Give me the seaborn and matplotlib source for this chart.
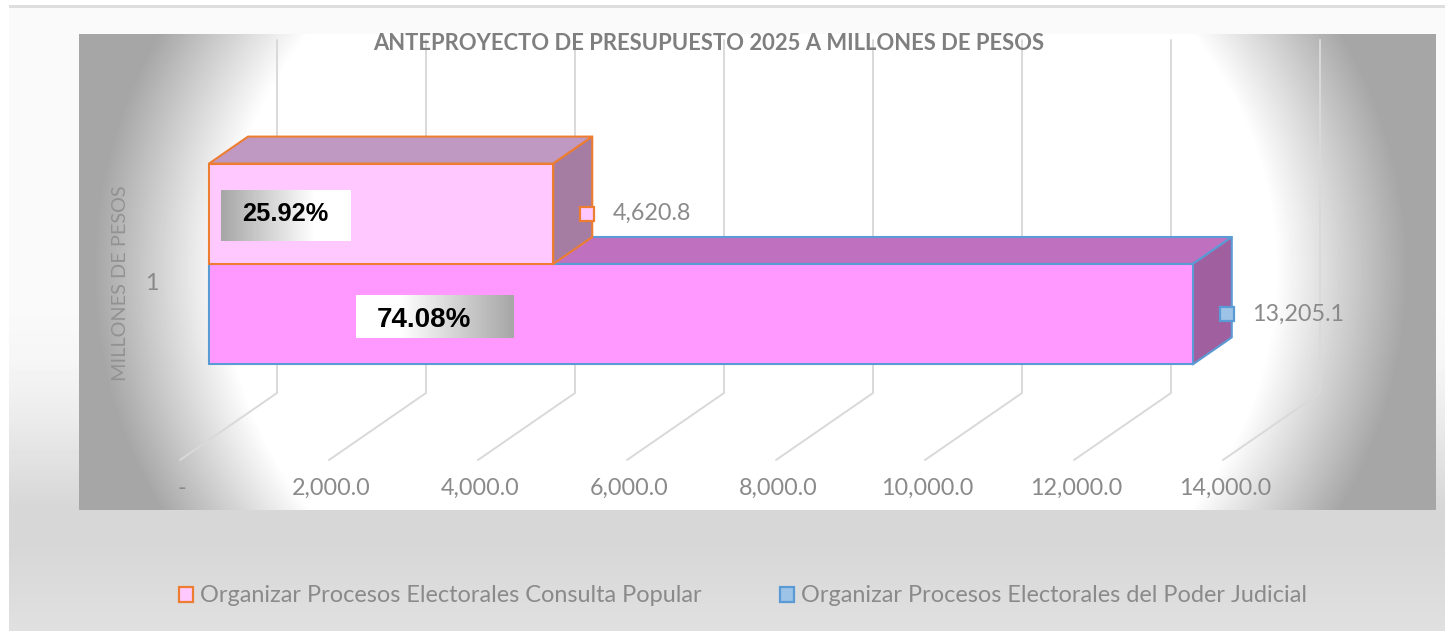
import numpy as np
import pandas as pd
import seaborn as sns
import matplotlib.pyplot as plt
from matplotlib.patches import Polygon
from matplotlib.transforms import Affine2D

# data
series = ['Organizar Procesos Electorales Consulta Popular',
          'Organizar Procesos Electorales del Poder Judicial']
categories = ['1', '1']
values = [4620.8, 13205.1]
shares = ['25.92%', '74.08%']
value_labels = ['4,620.8', '13,205.1']
x_ticks = [0, 2000, 4000, 6000, 8000, 10000, 12000, 14000]
x_tick_labels = ['-', '2,000.0', '4,000.0', '6,000.0', '8,000.0', '10,000.0', '12,000.0', '14,000.0']
title = 'ANTEPROYECTO DE PRESUPUESTO 2025 A MILLONES DE PESOS'
y_title = 'MILLONES DE PESOS'

# styles
face_colors = ['#FFC9FF', '#FF99FF']
edge_colors = ['#ED7D31', '#5B9BD5']
top_colors = ['#C099C3', '#BF70BF']
side_colors = ['#A57DA3', '#A060A0']
marker_colors = ['#FFC9FF', '#9DC3E6']
text_gray = '#8A8A8A'

W, H = 1445, 631
DEPTH_X, DEPTH_Y = 39, 27
PX_PER_UNIT = 0.0745
Y_UNIT = 251
X0, Y0 = 209, 264


def px(dx):
    return dx / PX_PER_UNIT


def py(p):
    return (p - Y0) / Y_UNIT


df = pd.DataFrame({'category': categories, 'series': series, 'value': values})

sns.set_theme(style='white')
plt.rcParams['font.family'] = ['Lato', 'DejaVu Sans']

fig = plt.figure(figsize=(W / 100, H / 100), dpi=100)

# background: card and radial wall
yy, xx = np.mgrid[0:H, 0:W]
card = np.interp(yy, [0, 300, 360, 420, 505, 545, 631], [250, 250, 246, 235, 215, 215, 224])
t = np.sqrt(((xx - 750) / 525.0) ** 2 + ((yy - 270) / 436.0) ** 2)
wall = 255 - np.clip((t - 1) / 0.25, 0, 1) * (255 - 166)
bg = card.copy()
inside = (xx >= 79) & (xx < 1436) & (yy >= 34) & (yy < 510)
bg[inside] = wall[inside]
bg[xx < 9] = 255
bg[yy < 6] = 255
bg[(yy >= 5) & (yy < 8) & (xx >= 9)] = 222
ax_bg = fig.add_axes([0, 0, 1, 1], zorder=0)
ax_bg.imshow(bg, cmap='gray', vmin=0, vmax=255, aspect='auto', interpolation='bilinear')
ax_bg.axis('off')

# main axes over the wall
ax = fig.add_axes([79 / W, 1 - 510 / H, (1436 - 79) / W, (510 - 34) / H], zorder=1)
ax.patch.set_alpha(0)
sns.barplot(data=df, y='category', x='value', hue='series', hue_order=series,
            palette=face_colors, orient='h', width=0.8, gap=0, saturation=1, ax=ax,
            zorder=3)

xlim = (px(79 - X0), px(1436 - X0))
ylim = (py(510), py(34))
ax.set_xlim(xlim)
ax.set_ylim(ylim)

# gridlines: back wall then floor
for tick in x_ticks:
    ax.plot([tick + px(68), tick + px(68), tick - px(29)], [py(40), py(393), py(460)],
            color='#D9D9D9', lw=1.4, zorder=1)

# bars with depth faces
bars = [b for b in ax.patches if b.get_width() > 0]
bars = sorted(bars, key=lambda b: b.get_y())
dx, dy = px(DEPTH_X), DEPTH_Y / Y_UNIT
for i, bar in enumerate(bars):
    z = 6 if i == 0 else 3
    left, top = bar.get_x(), bar.get_y()
    right, bottom = left + bar.get_width(), top + bar.get_height()
    bar.set_edgecolor(edge_colors[i])
    bar.set_linewidth(1.5)
    bar.set_zorder(z + 1)
    ax.add_patch(Polygon([(left, top), (left + dx, top - dy), (right + dx, top - dy), (right, top)],
                         facecolor=top_colors[i], edgecolor=edge_colors[i], lw=1.5, zorder=z,
                         joinstyle='round'))
    ax.add_patch(Polygon([(right, top), (right + dx, top - dy), (right + dx, bottom - dy), (right, bottom)],
                         facecolor=side_colors[i], edgecolor=edge_colors[i], lw=1.5, zorder=z,
                         joinstyle='round'))
    mid = (top + bottom) / 2
    ax.plot([values[i] + px(34)], [mid], marker='s', ms=10.5, mfc=marker_colors[i],
            mec=edge_colors[i], mew=1.6, zorder=9, clip_on=False)
    ax.text(values[i] + px(59.5), mid, value_labels[i], color=text_gray, fontsize=16.8,
            ha='left', va='center', zorder=9)

# percentage boxes with gradient
ramp = np.clip(np.linspace(0, 1, 200) / 0.72, 0, 1).reshape(1, -1)
boxes = [(221, 351, 190, 241, ramp, 285, 214, 18.3), (356, 514, 295, 338, ramp[:, ::-1], 424, 320, 20)]
for i, (x1, x2, y1, y2, grad, cx, cy, fs) in enumerate(boxes):
    ax.imshow(166 + grad * 89, cmap='gray', vmin=0, vmax=255, aspect='auto', zorder=10,
              extent=(px(x1 - X0), px(x2 - X0), py(y2), py(y1)))
    ax.text(px(cx - X0), py(cy), shares[i], color='black', fontsize=fs, fontweight='bold',
            family=['Liberation Sans'], ha='center', va='center', zorder=11)
ax.set_xlim(xlim)
ax.set_ylim(ylim)

# axis text
ax.set_xticks(x_ticks, x_tick_labels)
ax.tick_params(axis='x', length=0, pad=-23, labelsize=16.8, labelcolor=text_gray)
for lab in ax.get_xticklabels():
    lab.set_transform(lab.get_transform() + Affine2D().translate(-27, 0))
ax.set_yticks([0], ['1'])
ax.tick_params(axis='y', length=0, pad=-57.5, labelsize=16.8, labelcolor=text_gray)
for lab in ax.get_yticklabels():
    lab.set_transform(lab.get_transform() + Affine2D().translate(0, -18))
ax.set_xlabel('')
ax.set_ylabel(y_title, color='#929292', fontsize=14.3, va='center')
ax.yaxis.set_label_coords((121 - 79) / (1436 - 79), (510 - 283) / (510 - 34))
for s in ax.spines.values():
    s.set_visible(False)

fig.text(709 / W, 1 - 44 / H, title, color='#7F7F7F', fontsize=15.85, fontweight='bold',
         ha='center', va='center', zorder=5)

# legend from the bars
handles, labels = ax.get_legend_handles_labels()
for h, e, c in zip(handles, edge_colors, marker_colors):
    h.set_edgecolor(e)
    h.set_facecolor(c)
    h.set_linewidth(1.6)
ax.legend(handles, labels, ncol=2, frameon=False, loc='center',
          bbox_to_anchor=(743 / W, 1 - 596 / H), bbox_transform=fig.transFigure,
          fontsize=16.9, labelcolor=text_gray, handlelength=0.6, handleheight=0.6,
          handletextpad=0.3, columnspacing=3.3)

fig.savefig('out.png', dpi=100)
